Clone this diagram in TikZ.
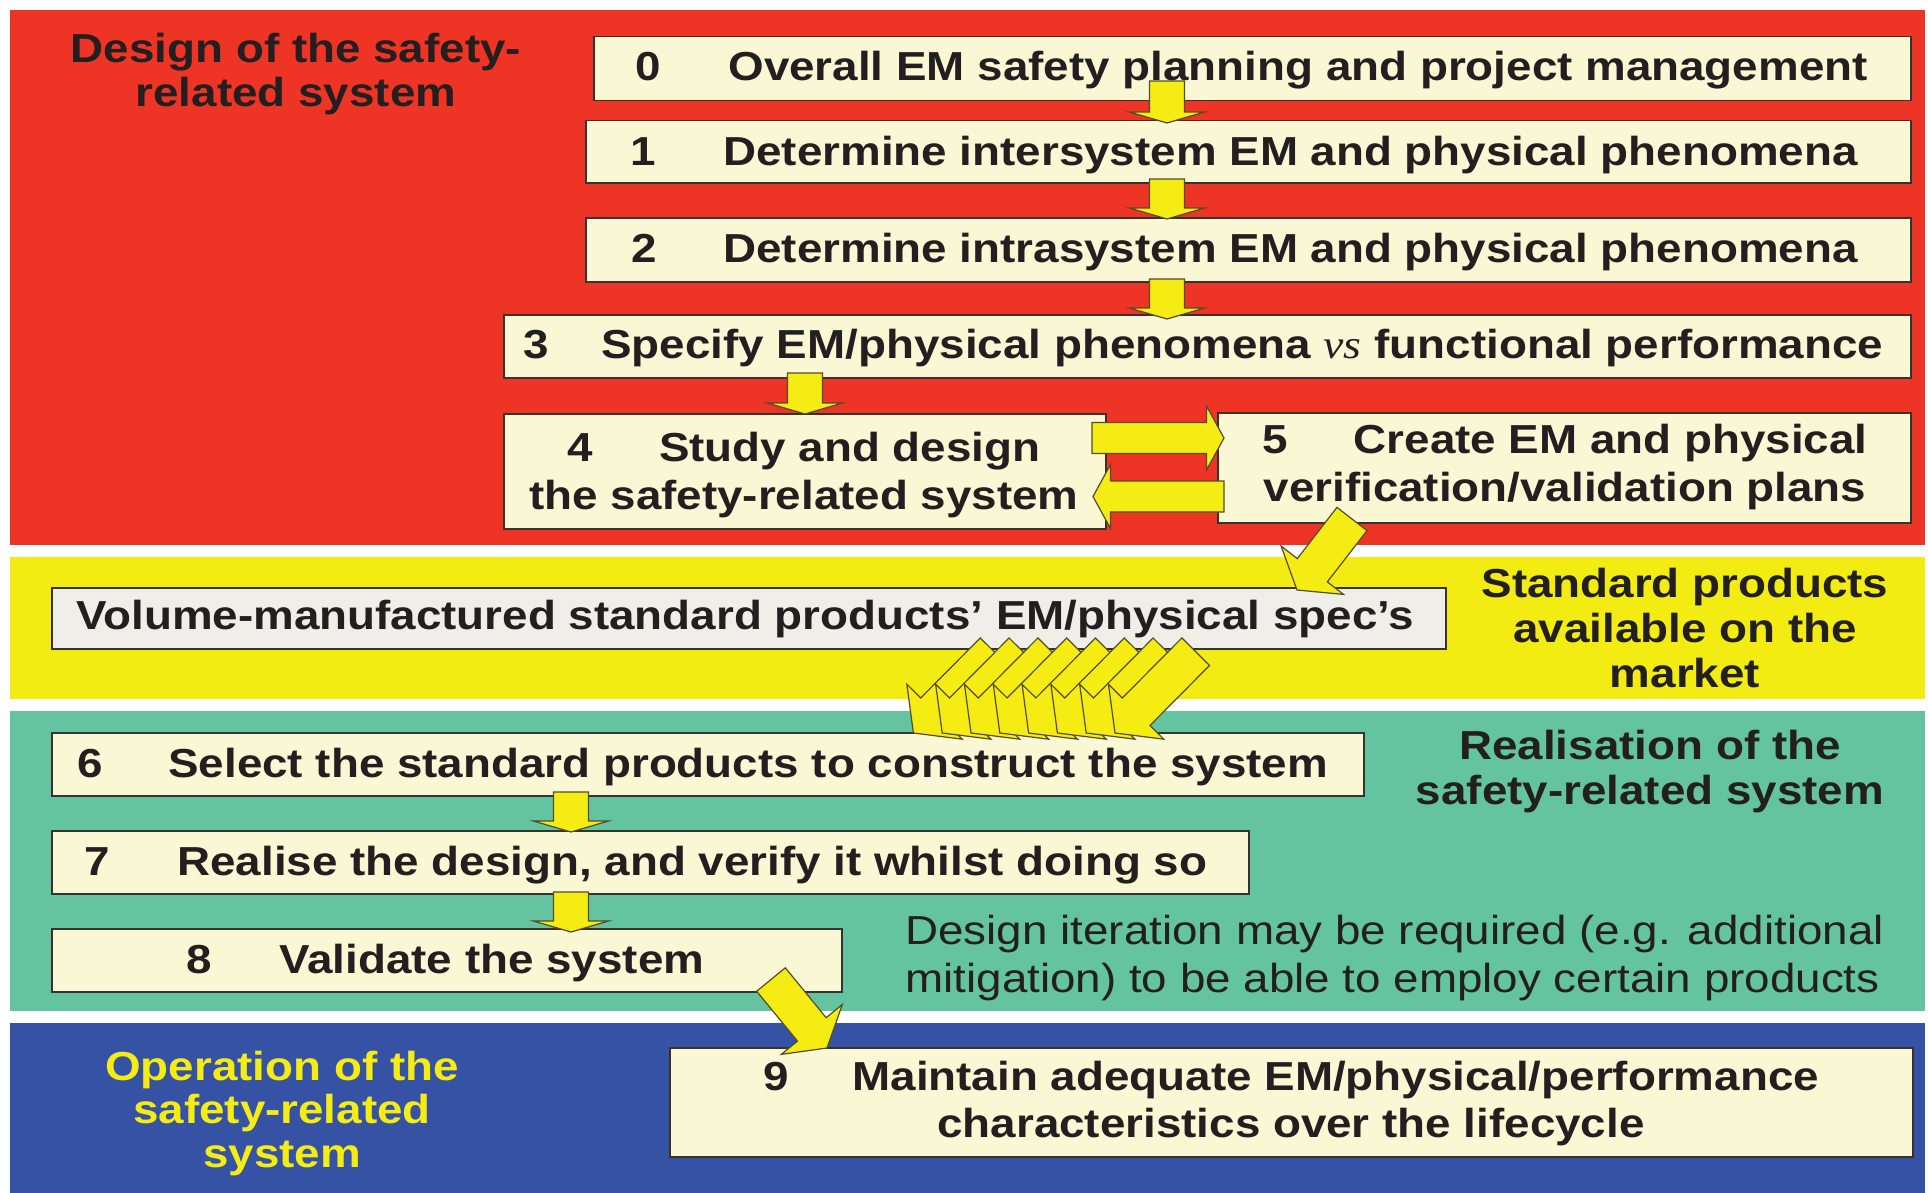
\documentclass[tikz,border=0pt]{standalone}
\usepackage{fontspec}
\setmainfont{Liberation Sans}[FakeStretch=1.13]
\newfontfamily\vsfont{Liberation Serif}[FakeStretch=1.13]
\usetikzlibrary{calc}
\definecolor{cred}{RGB}{238,52,36}
\definecolor{cyel}{RGB}{243,236,18}
\definecolor{cgreen}{RGB}{100,195,160}
\definecolor{cblue}{RGB}{54,82,165}
\definecolor{ccream}{RGB}{250,248,212}
\definecolor{cgrey}{RGB}{239,238,232}
\definecolor{ctext}{RGB}{35,31,32}
\definecolor{cline}{RGB}{55,50,45}
\definecolor{carrow}{RGB}{245,236,20}
\definecolor{carrowline}{RGB}{85,75,45}
\definecolor{cytext}{RGB}{245,236,20}
\tikzset{
  box/.style={draw=cline, line width=0.75pt, fill=ccream, inner sep=0pt, anchor=north west},
  txt/.style={inner sep=0pt, text=ctext, font=\bfseries\fontsize{20.25}{23}\selectfont},
  txtwide/.style={inner sep=0pt, text=ctext, align=center, anchor=base, font=\bfseries\fontsize{20.25}{24}\selectfont},
  lbl/.style={inner sep=0pt, align=center, anchor=base, text=ctext, font=\bfseries\fontsize{20.25}{22.5}\selectfont},
  note/.style={inner sep=0pt, align=left, anchor=base west, text=ctext, font=\mdseries\fontsize{20.25}{24}\selectfont},
  arrowbody/.style={fill=carrow, draw=carrowline, line width=0.6pt, line join=miter},
}
\newcommand\pbox[6]{%
  \node[box, minimum width={(#4-#2)*0.5pt}, minimum height={(#5-#3)*0.5pt}, #6] (#1) at (#2,#3) {};}
% from, to, half shaft, half head, head length
\newcommand\blockarrow[5]{%
  \coordinate (bacc) at ($(#2)!#5!(#1)$);
  \filldraw[arrowbody] ($(#1)!#3!90:(#2)$) -- ($(bacc)!#3!-90:(#1)$) -- ($(bacc)!#4!-90:(#1)$)
    -- (#2) -- ($(bacc)!#4!90:(#1)$) -- ($(bacc)!#3!90:(#1)$) -- ($(#1)!#3!-90:(#2)$) -- cycle;}
\begin{document}
\begin{tikzpicture}[x=0.5pt,y=-0.5pt]
\useasboundingbox (0,0) rectangle (1928,1193);
\fill[white] (0,0) rectangle (1928,1193);
% bands
\fill[cred] (10,10) rectangle (1925,545);
\fill[cyel] (10,557) rectangle (1925,699);
\fill[cgreen] (10,711) rectangle (1925,1011);
\fill[cblue] (10,1023) rectangle (1925,1193);
% boxes
\pbox{b0}{593}{36}{1910}{100}{}
\pbox{b1}{585}{120}{1910}{182}{}
\pbox{b2}{585}{217}{1910}{281}{}
\pbox{b3}{503}{314}{1910}{377}{}
\pbox{b4}{503}{413}{1105}{528}{}
\pbox{b5}{1217}{412}{1910}{522}{}
\pbox{vol}{51}{587}{1445}{648}{fill=cgrey}
\pbox{b6}{51}{732}{1363}{795}{}
\pbox{b7}{51}{830}{1248}{893}{}
\pbox{b8}{51}{928}{841}{991}{}
\pbox{b9}{669}{1047}{1912}{1156}{}
% box texts
\node[txt, anchor=base] (n0) at (648.5,81) {0};
\node[txt, anchor=base west] (t0) at (728,81) {Overall EM safety planning and project management};
\node[txt, anchor=base] (n1) at (643,165) {1};
\node[txt, anchor=base west] (t1) at (723,165) {Determine intersystem EM and physical phenomena};
\node[txt, anchor=base] (n2) at (644,262) {2};
\node[txt, anchor=base west] (t2) at (723,262) {Determine intrasystem EM and physical phenomena};
\node[txt, anchor=base] (n3) at (536,358) {3};
\node[txt, anchor=base west] (t3) at (601,358) {Specify EM/physical phenomena {\vsfont\mdseries\itshape vs} functional performance};
\node[txtwide] (t4) at (804,509) {4\hspace{33pt}Study and design\\the safety-related system};
\node[txtwide] (t5) at (1565,501) {5\hspace{33pt}Create EM and physical\\verification/validation plans};
\node[txt, anchor=base west] (tv) at (76,629) {Volume-manufactured standard products’ EM/physical spec’s};
\node[txt, anchor=base] (n6) at (90.5,777.5) {6};
\node[txt, anchor=base west] (t6) at (168,777.5) {Select the standard products to construct the system};
\node[txt, anchor=base] (n7) at (97,875.5) {7};
\node[txt, anchor=base west] (t7) at (177,875.5) {Realise the design, and verify it whilst doing so};
\node[txt, anchor=base] (n8) at (199,973.5) {8};
\node[txt, anchor=base west] (t8) at (279,973.5) {Validate the system};
\node[txtwide, font=\bfseries\fontsize{20.25}{23.5}\selectfont] (t9) at (1291,1137) {9\hspace{32pt}Maintain adequate EM/physical/performance\\characteristics over the lifecycle};
% band labels
\node[lbl, font=\bfseries\fontsize{20.25}{22.25}\selectfont] (L1) at (296,107) {Design of the safety-\\related system};
\node[lbl] (L2) at (1685,687) {Standard products\\available on the\\market};
\node[lbl, font=\bfseries\fontsize{20.25}{22.75}\selectfont] (L3) at (1650,804.5) {Realisation of the\\safety-related system};
\node[note] (L4) at (905,992) {Design iteration may be required (e.g. additional\\mitigation) to be able to employ certain products};
\node[lbl, text=cytext, font=\bfseries\fontsize{20.25}{21.75}\selectfont] (L5) at (282,1167) {Operation of the\\safety-related\\system};
% connector end points
\coordinate (a01s) at (1167,81);   \coordinate (a01e) at (1167,123);
\coordinate (a12s) at (1167,179);  \coordinate (a12e) at (1167,219);
\coordinate (a23s) at (1167,279);  \coordinate (a23e) at (1167,319);
\coordinate (a34s) at (805,373);   \coordinate (a34e) at (805,414);
\coordinate (a67s) at (571,792);   \coordinate (a67e) at (571,832);
\coordinate (a78s) at (571,892);   \coordinate (a78e) at (571,932);
\coordinate (a45s) at (1092,438);  \coordinate (a45e) at (1224,438);
\coordinate (a54s) at (1224,496.5);\coordinate (a54e) at (1093,496.5);
\coordinate (a5vs) at (1352,519);  \coordinate (a5ve) at (1297,590);
\coordinate (a89s) at (771,979.5); \coordinate (a89e) at (827,1048);
% vertical arrows
\blockarrow{a01s}{a01e}{8.75pt}{18.75pt}{5.5pt}
\blockarrow{a12s}{a12e}{8.75pt}{18.75pt}{5.5pt}
\blockarrow{a23s}{a23e}{8.75pt}{18.75pt}{5.5pt}
\blockarrow{a34s}{a34e}{8.75pt}{18.75pt}{5.5pt}
\blockarrow{a67s}{a67e}{8.75pt}{18.75pt}{5.5pt}
\blockarrow{a78s}{a78e}{8.75pt}{18.75pt}{5.5pt}
% horizontal arrows
\blockarrow{a45s}{a45e}{7.75pt}{16pt}{8.75pt}
\blockarrow{a54s}{a54e}{7.75pt}{16pt}{8.75pt}
% diagonal arrows
\blockarrow{a5vs}{a5ve}{9.5pt}{19.75pt}{12.5pt}
\blockarrow{a89s}{a89e}{9.25pt}{19.7pt}{12pt}
% fan of arrows from the standard products to step 6
\foreach \k in {7,6,...,0}{
  \coordinate (fs\k) at ({1195.7-28.8*\k},651.7);
  \coordinate (fe\k) at ({1115-28.8*\k},733);
  \blockarrow{fs\k}{fe\k}{9.75pt}{19.5pt}{15pt}
}
\end{tikzpicture}
\end{document}
